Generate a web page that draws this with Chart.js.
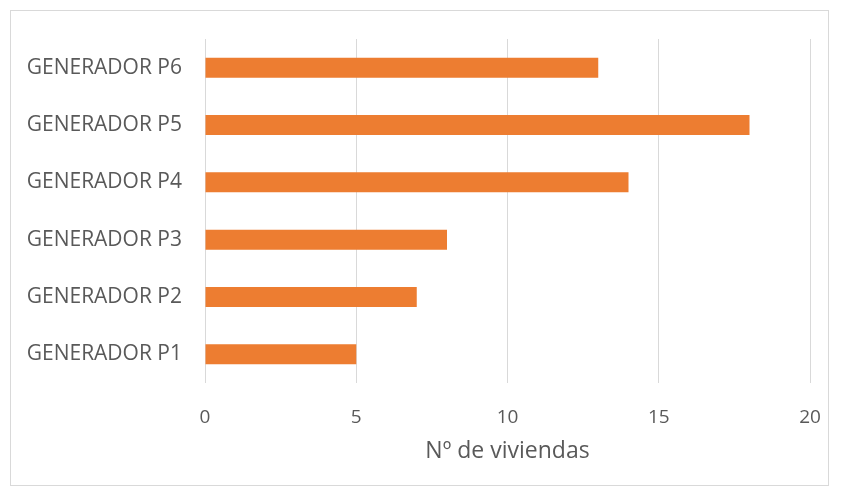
<!DOCTYPE html>
<html><head><meta charset="utf-8">
<script src="https://cdn.jsdelivr.net/npm/chart.js@4"></script>
<style>
html,body{margin:0;padding:0;background:#fff;}
#wrap{position:relative;width:841px;height:497px;}
#frame{position:absolute;left:10px;top:10px;width:819px;height:476px;border:1px solid #d9d9d9;box-sizing:border-box;pointer-events:none;}
canvas{position:absolute;left:0;top:0;}
</style></head>
<body>
<div id="wrap"><canvas id="c" width="841" height="497"></canvas><div id="frame"></div></div>
<script>
const categories = ["GENERADOR P1","GENERADOR P2","GENERADOR P3","GENERADOR P4","GENERADOR P5","GENERADOR P6"];
const values = [5, 7, 8, 14, 18, 13];
const xTicks = [0, 5, 10, 15, 20];
const xTitle = "Nº de viviendas";

const FONT = "'Open Sans', sans-serif";
new Chart(document.getElementById('c'), {
  type: 'bar',
  data: { labels: categories, datasets: [{ data: values, backgroundColor: '#ED7D31', barPercentage: 0.35, categoryPercentage: 1 }] },
  options: {
    indexAxis: 'y', responsive: false, animation: false,
    layout: { padding: { top: 39, right: 31, left: 0, bottom: 32 } },
    plugins: { legend: { display: false }, tooltip: { enabled: false } },
    scales: {
      x: {
        min: 0, max: 20,
        afterBuildTicks: s => { s.ticks = xTicks.map(v => ({ value: v })); },
        grid: { color: '#d9d9d9', drawTicks: false, lineWidth: 1 },
        border: { display: false },
        ticks: { color: '#595959', font: { family: FONT, size: 19 }, padding: 23 },
        title: { display: true, text: xTitle, color: '#595959', font: { family: FONT, size: 23 }, padding: { top: 2, bottom: 0 } },
        afterFit: s => { s.height = 82; s.paddingRight = 0; s.paddingLeft = 0; }
      },
      y: {
        reverse: true,
        grid: { display: false, drawTicks: false },
        border: { display: false },
        ticks: { color: '#595959', font: { family: FONT, size: 21 }, padding: 23 },
        afterFit: s => { s.width = 205; s.paddingTop = 0; s.paddingBottom = 0; }
      }
    }
  }
});
</script>
</body></html>
